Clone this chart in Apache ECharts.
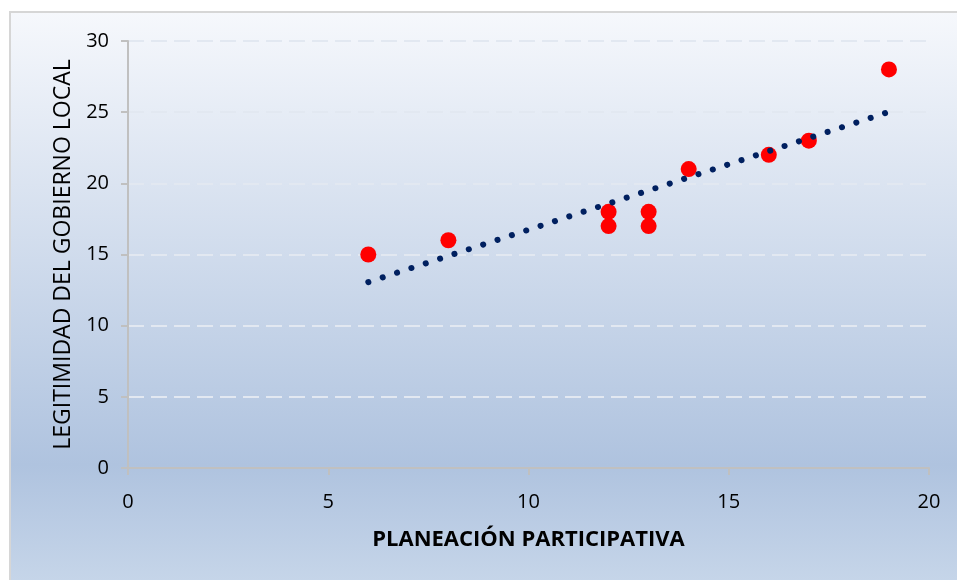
<!DOCTYPE html>
<html>
<head>
<meta charset="utf-8">
<script src="https://cdn.jsdelivr.net/npm/echarts@6/dist/echarts.min.js"></script>
<style>
  html, body { margin: 0; padding: 0; background: #fff; }
  #main { width: 957px; height: 580px; }
</style>
</head>
<body>
<div id="main"></div>
<script>
// puntos observados
const planeacion = [6, 8, 12, 12, 13, 13, 14, 16, 17, 19];
const legitimidad = [15, 16, 18, 17, 18, 17, 21, 22, 23, 28];
// línea de tendencia (extremos)
const trendX = [6, 19];
const trendY = [13.06, 25.02];

const xTicks = [0, 5, 10, 15, 20];
const yTicks = [0, 5, 10, 15, 20, 25, 30];

const chart = echarts.init(document.getElementById("main"));

const labelFont = { fontFamily: "Open Sans", fontSize: 20, color: "#000" };

chart.setOption({
  animation: false,
  graphic: [
    {
      type: "rect",
      left: 9,
      top: 11,
      z: -10,
      shape: { width: 960, height: 580 },
      style: {
        fill: new echarts.graphic.LinearGradient(0, 0, 0, 1, [
          { offset: 0, color: "#f6f8fc" },
          { offset: 0.78, color: "#afc3df" },
          { offset: 1, color: "#c8d7ea" }
        ]),
        stroke: "#d6d6d6",
        lineWidth: 2
      }
    }
  ],
  grid: {
    left: 128,
    right: 28,
    top: 41,
    bottom: 112
  },
  xAxis: {
    type: "value",
    min: xTicks[0],
    max: xTicks[xTicks.length - 1],
    interval: 5,
    name: "PLANEACIÓN PARTICIPATIVA",
    nameLocation: "middle",
    nameGap: 61,
    nameTextStyle: { fontFamily: "Open Sans", fontSize: 22, fontWeight: "bold", color: "#000" },
    axisLine: { show: true, lineStyle: { color: "#c0c0c0", width: 2 } },
    axisTick: { show: true, length: 7, lineStyle: { color: "#c0c0c0", width: 2 } },
    axisLabel: Object.assign({ margin: 24 }, labelFont),
    splitLine: { show: false }
  },
  yAxis: {
    type: "value",
    min: yTicks[0],
    max: yTicks[yTicks.length - 1],
    interval: 5,
    name: "LEGITIMIDAD DEL GOBIERNO LOCAL",
    nameLocation: "middle",
    nameGap: 53,
    nameTextStyle: { fontFamily: "Open Sans", fontSize: 23, color: "#000" },
    axisLine: { show: true, lineStyle: { color: "#c0c0c0", width: 2 } },
    axisTick: { show: true, length: 7, lineStyle: { color: "#c0c0c0", width: 2 } },
    axisLabel: Object.assign({ margin: 19 }, labelFont),
    splitLine: {
      show: true,
      lineStyle: { color: "#e2e8f1", width: 2, type: [16, 7] }
    }
  },
  series: [
    {
      type: "scatter",
      symbol: "circle",
      symbolSize: 16,
      itemStyle: { color: "#ff0000", opacity: 1 },
      data: planeacion.map((x, i) => [x, legitimidad[i]]),
      z: 2
    },
    {
      type: "line",
      symbol: "none",
      lineStyle: { color: "#002060", width: 6, type: [0.1, 15], cap: "round" },
      data: trendX.map((x, i) => [x, trendY[i]]),
      z: 3
    }
  ]
});
</script>
</body>
</html>
